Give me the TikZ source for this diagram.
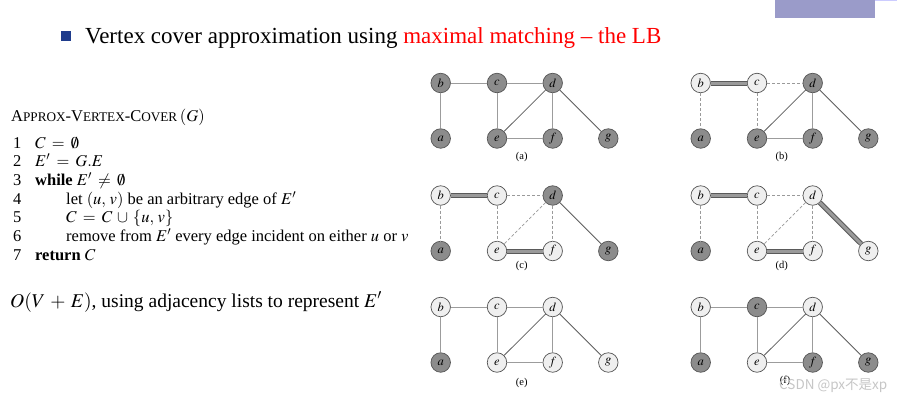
\documentclass[tikz,border=0pt]{standalone}
\usepackage{mathptmx}
\usepackage{fontspec}
\setmainfont{Liberation Serif}
\newfontfamily\cjkfont{Noto Sans CJK SC}
\definecolor{purp}{HTML}{9A9BC9}
\definecolor{bulblue}{HTML}{1F3C8C}
\definecolor{dknode}{HTML}{8C8C8C}
\definecolor{ltnode}{HTML}{EFEFEF}
\definecolor{nodeborder}{HTML}{555555}
\definecolor{edgecol}{HTML}{9C9C9C}
\definecolor{edgedark}{HTML}{5E5E5E}
\definecolor{dashcol}{HTML}{9A9A9A}
\definecolor{matout}{HTML}{5A5A5A}
\definecolor{matin}{HTML}{9A9A9A}
\newcommand{\fsc}[2]{#1{\fontsize{13.2}{14}\selectfont #2}}
\newcommand{\msp}{\kern2.5pt}
\newcommand{\gnodes}[9]{%
\begin{scope}[shift={#2}]
\node[#3] (#1a) at (0,55.5) {$a$};
\node[#4] (#1b) at (0,0) {$b$};
\node[#5] (#1c) at (56.3,0) {$c$};
\node[#6] (#1d) at (112,0) {$d$};
\node[#7] (#1e) at (56.3,55.5) {$e$};
\node[#8] (#1f) at (112,55.5) {$f$};
\node[#9] (#1g) at (167.6,55.5) {$g$};
\end{scope}}
\newcommand{\gedges}[9]{%
\draw[#2] (#1b) -- (#1a);
\draw[#3] (#1b) -- (#1c);
\draw[#4] (#1c) -- (#1d);
\draw[#5] (#1c) -- (#1e);
\draw[#6] (#1d) -- (#1e);
\draw[#7] (#1d) -- (#1f);
\draw[#8] (#1d) -- (#1g);
\draw[#9] (#1e) -- (#1f);}
\begin{document}
\begin{tikzpicture}[x=1pt,y=-1pt,
  dk/.style={circle, draw=nodeborder, line width=0.7pt, fill=dknode, minimum size=19.5pt, inner sep=0pt, font=\fontsize{12.5}{12.5}\selectfont},
  lt/.style={dk, fill=ltnode},
  sol/.style={draw=edgecol, line width=1pt},
  sold/.style={draw=edgedark, line width=0.8pt},
  dsh/.style={draw=dashcol, line width=0.7pt, dash pattern=on 3pt off 2pt},
  mat/.style={draw=matout, line width=1pt, double=matin, double distance=3pt},
  captxt/.style={font=\fontsize{10.5}{12}\selectfont},
  codeline/.style={anchor=base west, inner sep=0pt, font=\fontsize{16.5}{18}\selectfont},
  bulletsq/.style={rectangle, fill=bulblue, minimum size=9.5pt, inner sep=0pt}]
\useasboundingbox (0,0) rectangle (919,400);
\fill[white] (0,0) rectangle (919,400);
\fill[purp] (775,0) rectangle (875,18);
\draw[color=blue!20, line width=0.6pt] (875,0.5) -- (897,0.5);
% header
\node[bulletsq] (bul) at (66,36) {};
\node[anchor=base west, inner sep=0pt, font=\fontsize{23}{24}\selectfont] (title) at (85,43)
  {Vertex cover approximation using \textcolor{red}{maximal matching – the LB}};
% algorithm
\node[codeline] (alg) at (11,121) {\fsc{A}{PPROX}-\fsc{V}{ERTEX}-\fsc{C}{OVER}\,$(G)$};
\node[codeline] (n1) at (13,148) {1};
\node[codeline] (n2) at (13,166.5) {2};
\node[codeline] (n3) at (13,185) {3};
\node[codeline] (n4) at (13,204) {4};
\node[codeline] (n5) at (13,222.5) {5};
\node[codeline] (n6) at (13,241.5) {6};
\node[codeline] (n7) at (13,260) {7};
\node[codeline] (c1) at (35,148) {$C\msp=\msp\emptyset$};
\node[codeline] (c2) at (35,166.5) {$E'\msp=\msp G.E$};
\node[codeline] (c3) at (35,185) {\textbf{while} $E'\msp\neq\msp\emptyset$};
\node[codeline] (c4) at (66,204) {let $(u,\,v)$ be an arbitrary edge of $E'$};
\node[codeline] (c5) at (66,222.5) {$C\msp=\msp C\msp\cup\msp\{u,\,v\}$};
\node[codeline] (c6) at (66,241.5) {remove from $E'$ every edge incident on either $u$ or $v$};
\node[codeline] (c7) at (35,260) {\textbf{return} $C$};
\node[anchor=base west, inner sep=0pt, font=\fontsize{19.5}{20}\selectfont] (cost) at (10,307)
  {$O(V\msp+\msp E)$, using adjacency lists to represent $E'$};
% panel (a)
\gnodes{A}{(440.7,83)}{dk}{dk}{dk}{dk}{dk}{dk}{dk}
\gedges{A}{sol}{sol}{sol}{sol}{sold}{sol}{sold}{sol}
\node[captxt] (capA) at (521.7,157) {(a)};
% panel (b)
\gnodes{B}{(700.7,83)}{dk}{lt}{lt}{dk}{dk}{dk}{dk}
\gedges{B}{dsh}{mat}{dsh}{dsh}{sold}{sol}{sold}{sol}
\node[captxt] (capB) at (781.7,157) {(b)};
% panel (c)
\gnodes{C}{(440.7,195.5)}{dk}{lt}{lt}{dk}{lt}{lt}{dk}
\gedges{C}{dsh}{mat}{dsh}{dsh}{dsh}{dsh}{sold}{mat}
\node[captxt] (capC) at (521.7,266) {(c)};
% panel (d)
\gnodes{D}{(700.7,195.5)}{dk}{lt}{lt}{lt}{lt}{lt}{lt}
\gedges{D}{dsh}{mat}{dsh}{dsh}{dsh}{dsh}{mat}{mat}
\node[captxt] (capD) at (781.7,266) {(d)};
% panel (e)
\gnodes{E}{(440.7,307)}{dk}{lt}{lt}{lt}{lt}{lt}{lt}
\gedges{E}{sol}{sol}{sol}{sol}{sold}{sol}{sold}{sol}
\node[captxt] (capE) at (521.7,383) {(e)};
% panel (f)
\gnodes{F}{(700.7,307)}{dk}{lt}{dk}{lt}{lt}{dk}{dk}
\gedges{F}{sol}{sol}{sol}{sol}{sold}{sol}{sold}{sol}
\node[captxt] (capF) at (785,381) {(f)};
% watermark
\node[anchor=base west, inner sep=0pt, text=gray!45, font=\cjkfont\fontsize{13.5}{14}\selectfont] (wm) at (779,389) {CSDN @px不是xp};
\end{tikzpicture}
\end{document}
